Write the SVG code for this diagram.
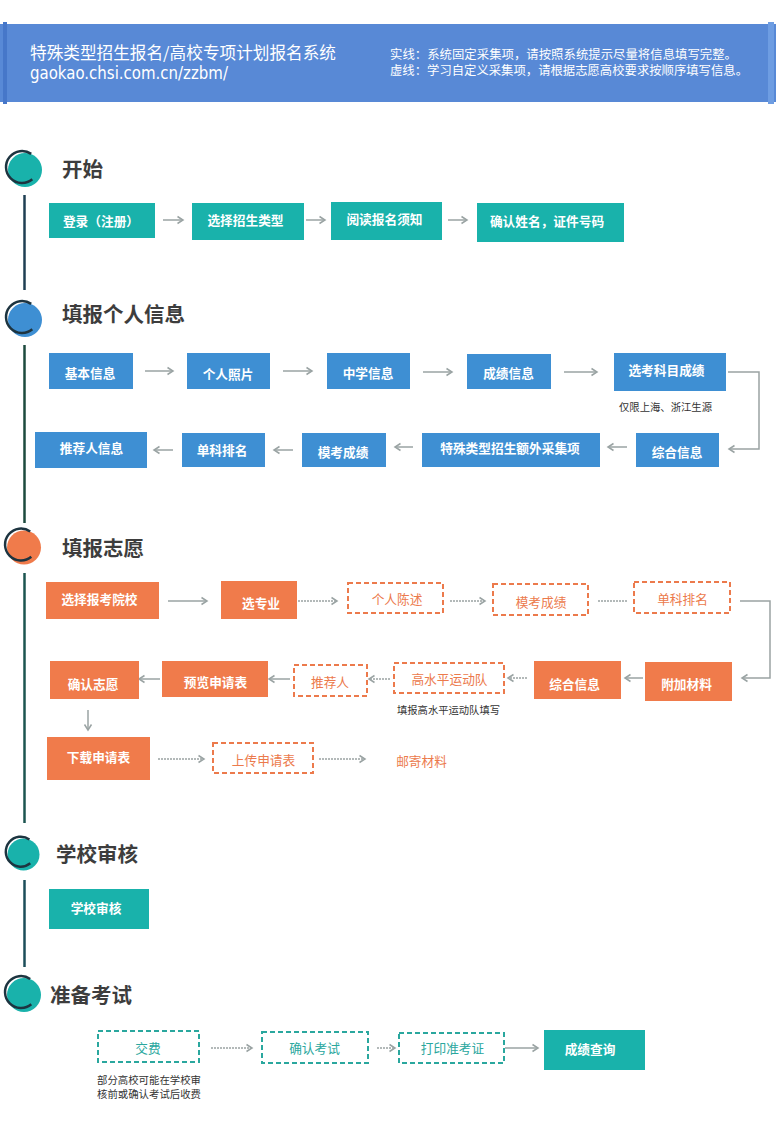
<svg xmlns="http://www.w3.org/2000/svg" width="776" height="1125" viewBox="0 0 776 1125">
<style>
text{font-family:"Noto Sans CJK SC","Noto Sans",sans-serif}
.hd{fill:#fff}
.st{font-size:20.5px;font-weight:bold;fill:#3d3d3d}
.lb{font-size:12.7px;font-weight:bold;fill:#fff;text-anchor:middle;dominant-baseline:central}
.dl{font-size:12.7px;text-anchor:middle;dominant-baseline:central}
.nt{font-size:10.3px;fill:#333}
.teal{fill:#19b2ab}
.blue{fill:#3e8fd3}
.org{fill:#f07b4b}
.dor{fill:#fff;stroke:#ec7a4c;stroke-width:2;stroke-dasharray:5,3}
.dte{fill:#fff;stroke:#2aa79e;stroke-width:2;stroke-dasharray:5,3}
.to{fill:#ec7a4c}
.tt{fill:#2aa79e}
.ar{fill:none;stroke:#9aa3a3;stroke-width:1.5}
.dt{fill:none;stroke:#9aa3a3;stroke-width:1.3;stroke-dasharray:2,1}
.tl{stroke-width:2.5;fill:none}
.arc{fill:none;stroke:#1d3440;stroke-width:2.5}
</style>
<defs>
<marker id="ah" markerWidth="9" markerHeight="10" refX="7" refY="5" orient="auto" markerUnits="userSpaceOnUse">
<path d="M1.5,1.5 L7,5 L1.5,8.5" fill="none" stroke="#9aa3a3" stroke-width="1.5"/>
</marker>
</defs>

<g id="header">
<rect x="0" y="24" width="776" height="78" fill="#5889d6"/>
<rect x="3" y="22" width="4" height="82" fill="#4677c9"/>
<rect x="768" y="22" width="6" height="82" fill="#6e9de2"/>
<text class="hd" x="30" y="59" font-size="16.5" textLength="306" lengthAdjust="spacingAndGlyphs">特殊类型招生报名/高校专项计划报名系统</text>
<text class="hd" x="30" y="79" font-size="17" textLength="198" lengthAdjust="spacingAndGlyphs" style='font-family:"DejaVu Sans","Liberation Sans",sans-serif'>gaokao.chsi.com.cn/zzbm/</text>
<text class="hd" x="390" y="59" font-size="12" textLength="347" lengthAdjust="spacingAndGlyphs">实线：系统固定采集项，请按照系统提示尽量将信息填写完整。</text>
<text class="hd" x="390" y="75" font-size="12" textLength="358" lengthAdjust="spacingAndGlyphs">虚线：学习自定义采集项，请根据志愿高校要求按顺序填写信息。</text>
</g>

<g id="timeline">
<line class="tl" x1="24.5" y1="195" x2="24.5" y2="290" stroke="#1f3f53"/>
<line class="tl" x1="24.5" y1="345" x2="24.5" y2="523" stroke="#1d4a3e"/>
<line class="tl" x1="24.5" y1="573" x2="24.5" y2="823" stroke="#1c5550"/>
<line class="tl" x1="24.5" y1="880" x2="24.5" y2="967" stroke="#1c4e5a"/>
</g>

<g id="sec1-title">
<circle cx="25" cy="170" r="17" fill="#19b2ab"/>
<path class="arc" d="M32.3,179.3 A16,16 0 1 1 31.2,153.9"/>
<text class="st" x="62" y="177">开始</text>
</g>
<g id="sec2-title">
<circle cx="25" cy="320" r="17" fill="#3e8fd3"/>
<path class="arc" d="M32.3,329.3 A16,16 0 1 1 31.2,303.9"/>
<text class="st" x="62" y="322">填报个人信息</text>
</g>
<g id="sec3-title">
<circle cx="24" cy="547.5" r="17" fill="#f07b4b"/>
<path class="arc" d="M31.3,556.8 A16,16 0 1 1 30.2,531.4"/>
<text class="st" x="62" y="556">填报志愿</text>
</g>
<g id="sec4-title">
<circle cx="23.5" cy="854.5" r="16" fill="#19b2ab"/>
<path class="arc" d="M30.3,863.3 A15,15 0 1 1 29.4,839.4"/>
<text class="st" x="56" y="862">学校审核</text>
</g>
<g id="sec5-title">
<circle cx="24" cy="995" r="17" fill="#19b2ab"/>
<path class="arc" d="M31.3,1004.3 A16,16 0 1 1 30.2,978.9"/>
<text class="st" x="50" y="1003">准备考试</text>
</g>

<g id="connectors">
<line class="ar" x1="163" y1="220" x2="183" y2="220" marker-end="url(#ah)"/>
<line class="ar" x1="306" y1="220" x2="325" y2="220" marker-end="url(#ah)"/>
<line class="ar" x1="448" y1="220" x2="467" y2="220" marker-end="url(#ah)"/>

<line class="ar" x1="145" y1="371" x2="173" y2="371" marker-end="url(#ah)"/>
<line class="ar" x1="283" y1="371" x2="312" y2="371" marker-end="url(#ah)"/>
<line class="ar" x1="423" y1="372" x2="452" y2="372" marker-end="url(#ah)"/>
<line class="ar" x1="564" y1="372" x2="597" y2="372" marker-end="url(#ah)"/>
<path class="ar" d="M728,372 H759 V449 H729" marker-end="url(#ah)"/>
<line class="ar" x1="627" y1="447" x2="608" y2="447" marker-end="url(#ah)"/>
<line class="ar" x1="413" y1="447" x2="395" y2="447" marker-end="url(#ah)"/>
<line class="ar" x1="293" y1="450" x2="274" y2="450" marker-end="url(#ah)"/>
<line class="ar" x1="173" y1="450" x2="154" y2="450" marker-end="url(#ah)"/>

<line class="ar" x1="168" y1="601" x2="207" y2="601" marker-end="url(#ah)"/>
<line class="dt" x1="298" y1="601" x2="337" y2="601" marker-end="url(#ah)"/>
<line class="dt" x1="450" y1="601" x2="485" y2="601" marker-end="url(#ah)"/>
<line class="dt" x1="598" y1="601" x2="628" y2="601"/>
<path class="ar" d="M740,601 H770 V678 H742" marker-end="url(#ah)"/>
<line class="ar" x1="643" y1="678" x2="625" y2="678" marker-end="url(#ah)"/>
<line class="dt" x1="527" y1="678" x2="508" y2="678" marker-end="url(#ah)"/>
<line class="dt" x1="390" y1="679" x2="369" y2="679" marker-end="url(#ah)"/>
<line class="ar" x1="290" y1="679" x2="269" y2="679" marker-end="url(#ah)"/>
<line class="ar" x1="160" y1="679" x2="139" y2="679" marker-end="url(#ah)"/>
<line class="ar" x1="88" y1="710" x2="88" y2="730" marker-end="url(#ah)"/>
<line class="dt" x1="158" y1="759" x2="204" y2="759" marker-end="url(#ah)"/>
<line class="dt" x1="319" y1="759" x2="365" y2="759" marker-end="url(#ah)"/>

<line class="dt" x1="211" y1="1048" x2="252" y2="1048" marker-end="url(#ah)"/>
<line class="dt" x1="377" y1="1048" x2="395" y2="1048" marker-end="url(#ah)"/>
<line class="ar" x1="505" y1="1048" x2="538" y2="1048" marker-end="url(#ah)"/>
</g>

<g id="n-login"><rect class="teal" x="49" y="203" width="106" height="35"/><text class="lb" x="101" y="220.5">登录（注册）</text></g>
<g id="n-type"><rect class="teal" x="192" y="203" width="112" height="37"/><text class="lb" x="245.5" y="219.5">选择招生类型</text></g>
<g id="n-notice"><rect class="teal" x="331" y="202" width="111" height="38"/><text class="lb" x="384.5" y="218">阅读报名须知</text></g>
<g id="n-confirm-id"><rect class="teal" x="477" y="203" width="147" height="39"/><text class="lb" x="547" y="220.5">确认姓名，证件号码</text></g>

<g id="n-basic"><rect class="blue" x="49" y="353" width="84" height="36"/><text class="lb" x="90" y="372.5">基本信息</text></g>
<g id="n-photo"><rect class="blue" x="187" y="353" width="83" height="36"/><text class="lb" x="228" y="373.5">个人照片</text></g>
<g id="n-school"><rect class="blue" x="327" y="353" width="83" height="36"/><text class="lb" x="368" y="372.5">中学信息</text></g>
<g id="n-grades"><rect class="blue" x="467" y="354" width="84" height="35"/><text class="lb" x="508.5" y="372.5">成绩信息</text></g>
<g id="n-subject"><rect class="blue" x="614" y="353" width="112" height="38"/><text class="lb" x="666.5" y="369.5">选考科目成绩</text>
<text class="nt" x="619" y="411" textLength="93" lengthAdjust="spacingAndGlyphs">仅限上海、浙江生源</text></g>
<g id="n-comp1"><rect class="blue" x="636" y="433" width="83" height="34"/><text class="lb" x="677" y="451.5">综合信息</text></g>
<g id="n-extra"><rect class="blue" x="422" y="433" width="178" height="34"/><text class="lb" x="510" y="447.5">特殊类型招生额外采集项</text></g>
<g id="n-mock1"><rect class="blue" x="302" y="433" width="84" height="34"/><text class="lb" x="343" y="451">模考成绩</text></g>
<g id="n-rank1"><rect class="blue" x="182" y="433" width="83" height="34"/><text class="lb" x="222" y="449">单科排名</text></g>
<g id="n-referee1"><rect class="blue" x="35" y="432" width="112" height="36"/><text class="lb" x="91.5" y="447.5">推荐人信息</text></g>

<g id="n-college"><rect class="org" x="46" y="582" width="113" height="37"/><text class="lb" x="99.5" y="598">选择报考院校</text></g>
<g id="n-major"><rect class="org" x="221" y="581" width="76" height="38"/><text class="lb" x="261" y="602.5">选专业</text></g>
<g id="n-statement"><rect class="dor" x="348" y="583" width="95" height="30"/><text class="dl to" x="397" y="598">个人陈述</text></g>
<g id="n-mock2"><rect class="dor" x="493" y="584" width="95" height="31"/><text class="dl to" x="541" y="601">模考成绩</text></g>
<g id="n-rank2"><rect class="dor" x="634" y="582" width="96" height="31"/><text class="dl to" x="682.5" y="598">单科排名</text></g>
<g id="n-attach"><rect class="org" x="645" y="662" width="87" height="39"/><text class="lb" x="686.5" y="683">附加材料</text></g>
<g id="n-comp2"><rect class="org" x="534" y="661" width="87" height="38"/><text class="lb" x="574.5" y="683">综合信息</text></g>
<g id="n-sports"><rect class="dor" x="394" y="663" width="110" height="30"/><text class="dl to" x="449.5" y="678">高水平运动队</text>
<text class="nt" x="397" y="714" textLength="103" lengthAdjust="spacingAndGlyphs">填报高水平运动队填写</text></g>
<g id="n-referee2"><rect class="dor" x="294" y="665" width="73" height="31"/><text class="dl to" x="330" y="681">推荐人</text></g>
<g id="n-preview"><rect class="org" x="162" y="661" width="106" height="36"/><text class="lb" x="215.5" y="681">预览申请表</text></g>
<g id="n-confirm-wish"><rect class="org" x="50" y="661" width="89" height="38"/><text class="lb" x="93" y="683">确认志愿</text></g>
<g id="n-download"><rect class="org" x="47" y="737" width="103" height="43"/><text class="lb" x="98.5" y="756">下载申请表</text></g>
<g id="n-upload"><rect class="dor" x="213" y="743" width="100" height="30"/><text class="dl to" x="263.5" y="759">上传申请表</text></g>
<g id="n-mail"><text class="dl to" x="421.5" y="760">邮寄材料</text></g>

<g id="n-review"><rect class="teal" x="49" y="889" width="100" height="40"/><text class="lb" x="96" y="907">学校审核</text></g>

<g id="n-fee"><rect class="dte" x="98" y="1031" width="101" height="31"/><text class="dl tt" x="148" y="1047">交费</text>
<text class="nt" x="97" y="1084" font-size="10" textLength="104" lengthAdjust="spacingAndGlyphs" style="font-size:10px">部分高校可能在学校审</text>
<text class="nt" x="97" y="1098" font-size="10" textLength="104" lengthAdjust="spacingAndGlyphs" style="font-size:10px">核前或确认考试后收费</text></g>
<g id="n-confirm-exam"><rect class="dte" x="262" y="1032" width="106" height="31"/><text class="dl tt" x="314.5" y="1047">确认考试</text></g>
<g id="n-print"><rect class="dte" x="399" y="1033" width="105" height="30"/><text class="dl tt" x="452.5" y="1047">打印准考证</text></g>
<g id="n-result"><rect class="teal" x="544" y="1030" width="101" height="40"/><text class="lb" x="590" y="1048">成绩查询</text></g>
</svg>
